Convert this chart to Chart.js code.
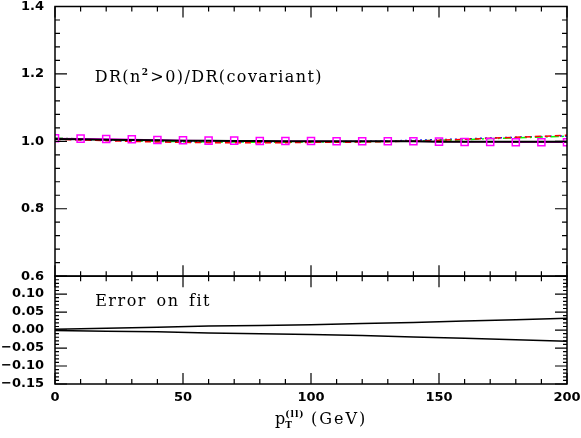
<!DOCTYPE html>
<html>
<head>
<meta charset="utf-8">
<script src="https://cdn.jsdelivr.net/npm/chart.js@4.4.1/dist/chart.umd.min.js"></script>
<style>
    html, body { margin: 0; padding: 0; background: #fff; }
    #wrap { width: 581px; height: 438px; }
</style>
</head>
<body>
<div id="wrap"><canvas id="chart" width="581" height="438"></canvas></div>
<script>
// pT values (GeV) of the ratio curves
const ptValues = [0, 10, 20, 30, 40, 50, 60, 70, 80, 90, 100, 110, 120, 130, 140, 150, 160, 170, 180, 190, 200];

// Ratio DR(n^2>0)/DR(covariant)
const ratioBlack   = [1.007, 1.006, 1.005, 1.004, 1.003, 1.002, 1.002, 1.001, 1.001, 1.000, 1.000, 1.000, 1.000, 1.000, 1.000, 0.999, 0.999, 0.999, 0.999, 0.999, 0.999];
const ratioRed     = [1.006, 1.004, 1.002, 1.000, 0.998, 0.997, 0.996, 0.996, 0.996, 0.996, 0.997, 0.997, 0.998, 0.999, 1.001, 1.003, 1.006, 1.009, 1.012, 1.015, 1.018];
const ratioGreen   = [1.010, 1.007, 1.004, 1.002, 1.000, 0.999, 0.998, 0.998, 0.997, 0.997, 0.998, 0.998, 0.999, 1.000, 1.001, 1.003, 1.005, 1.008, 1.010, 1.013, 1.015];
const ratioBlue    = [1.007, 1.005, 1.003, 1.001, 1.000, 0.999, 0.998, 0.998, 0.998, 0.998, 0.999, 0.999, 1.000, 1.001, 1.003, 1.005, 1.007, 1.010, 1.012, 1.014, 1.016];
const ratioMagenta = [1.009, 1.008, 1.007, 1.006, 1.004, 1.003, 1.002, 1.002, 1.001, 1.001, 1.001, 1.000, 1.000, 1.000, 1.000, 0.999, 0.998, 0.998, 0.997, 0.997, 0.997];

// Error on fit band (lower panel)
const errPt    = [0, 20, 40, 60, 80, 100, 120, 140, 160, 180, 200];
const errUpper = [0.002, 0.005, 0.008, 0.011, 0.013, 0.015, 0.018, 0.021, 0.025, 0.029, 0.033];
const errLower = [-0.001, -0.003, -0.005, -0.008, -0.010, -0.012, -0.015, -0.019, -0.023, -0.027, -0.031];

// Tick labels
const xTicks = [0, 50, 100, 150, 200];
const yTopTicks = [0.6, 0.8, 1.0, 1.2, 1.4];
const yBotTicks = [-0.15, -0.10, -0.05, 0.00, 0.05, 0.10];

// Texts
const topLabel = "DR(n";
const topLabelSup = "2";
const topLabelRest = ">0)/DR(covariant)";
const botLabel = "Error on fit";

const tickFont = { family: "DejaVu Sans", weight: "bold", size: 13, lineHeight: 1 };
const serif = "DejaVu Serif";

function pts(xs, ys) {
    return xs.map((x, i) => ({ x: x, y: ys[i] }));
}

function minus(s) {
    return s.replace("-", "\u2212");
}

// Fixed axis sizes, no extra room for the end labels
function fixY(s) {
    s.width = 55;
    s.paddingTop = 0;
    s.paddingBottom = 0;
}

function fixX(s) {
    s.height = 54;
    s.paddingLeft = 0;
    s.paddingRight = 0;
}

/**
 * Draws the frames, inward ticks and the texts
 */
const framePlugin = {
    id: "frame",
    afterDraw(chart) {
        const ctx = chart.ctx;
        const xs = chart.scales.x;
        const yt = chart.scales.y;
        const yb = chart.scales.y2;
        ctx.save();
        ctx.strokeStyle = "#000";
        ctx.lineWidth = 1.5;

        // Frames
        [yt, yb].forEach(ys => {
            ctx.strokeRect(xs.left, ys.top, xs.right - xs.left, ys.bottom - ys.top);
        });

        ctx.lineWidth = 1.2;
        ctx.beginPath();
        // x ticks on top and bottom of both panels
        for (let v = 0; v <= 200; v += 10) {
            const px = xs.getPixelForValue(v);
            const len = v % 50 === 0 ? 11 : 5;
            [yt, yb].forEach(ys => {
                ctx.moveTo(px, ys.top);
                ctx.lineTo(px, ys.top + len);
                ctx.moveTo(px, ys.bottom);
                ctx.lineTo(px, ys.bottom - len);
            });
        }
        // y ticks, top panel
        for (let i = 0; i <= 20; i++) {
            const v = 0.6 + i * 0.04;
            const py = yt.getPixelForValue(v);
            const len = i % 5 === 0 ? 12 : 5;
            ctx.moveTo(xs.left, py);
            ctx.lineTo(xs.left + len, py);
            ctx.moveTo(xs.right, py);
            ctx.lineTo(xs.right - len, py);
        }
        // y ticks, bottom panel
        for (let i = 0; i <= 30; i++) {
            const v = -0.15 + i * 0.01;
            const py = yb.getPixelForValue(v);
            const len = i % 5 === 0 ? 12 : 4;
            ctx.moveTo(xs.left, py);
            ctx.lineTo(xs.left + len, py);
            ctx.moveTo(xs.right, py);
            ctx.lineTo(xs.right - len, py);
        }
        ctx.stroke();

        // Labels inside the panels
        ctx.fillStyle = "#000";
        ctx.textBaseline = "alphabetic";
        ctx.textAlign = "left";
        ctx.letterSpacing = "1.4px";
        let tx = xs.getPixelForValue(15.5);
        let ty = yt.getPixelForValue(1.176);
        ctx.font = "16px " + serif;
        ctx.fillText(topLabel, tx, ty);
        tx += ctx.measureText(topLabel).width;
        ctx.font = "bold 9px " + serif;
        ctx.fillText(topLabelSup, tx, ty - 7);
        tx += ctx.measureText(topLabelSup).width + 1;
        ctx.font = "16px " + serif;
        ctx.fillText(topLabelRest, tx, ty);

        ctx.letterSpacing = "1.5px";
        ctx.wordSpacing = "3px";
        ctx.fillText(botLabel, xs.getPixelForValue(15.7), yb.getPixelForValue(0.0665));
        ctx.wordSpacing = "0px";

        // x axis title: p_T^(ll) (GeV)
        let ax = 275;
        const ay = 424;
        ctx.letterSpacing = "0px";
        ctx.font = "16px " + serif;
        ctx.fillText("p", ax, ay);
        ax += ctx.measureText("p").width;
        ctx.font = "bold 9px " + serif;
        ctx.fillText("T", ax, ay + 4);
        ctx.letterSpacing = "1px";
        ctx.fillText("(ll)", ax, ay - 7);
        ax = 311;
        ctx.letterSpacing = "2px";
        ctx.font = "16px " + serif;
        ctx.fillText("(GeV)", ax, ay);

        ctx.restore();
    },
};

const ctx = document.getElementById("chart");

new Chart(ctx, {
    type: "line",
    data: {
        datasets: [
            {
                label: "magenta points",
                data: pts(ptValues, ratioMagenta),
                yAxisID: "y",
                showLine: false,
                pointStyle: "rect",
                pointRadius: 5,
                pointBorderWidth: 1.5,
                pointBorderColor: "#ff00ff",
                pointBackgroundColor: "rgba(0,0,0,0)",
                order: 0,
            },
            {
                label: "black",
                data: pts(ptValues, ratioBlack),
                yAxisID: "y",
                borderColor: "#000",
                borderWidth: 2,
                pointRadius: 0,
                order: 1,
            },
            {
                label: "magenta",
                data: pts(ptValues, ratioMagenta),
                yAxisID: "y",
                borderColor: "#ff00ff",
                borderWidth: 1.2,
                pointRadius: 0,
                order: 2,
            },
            {
                label: "red",
                data: pts(ptValues, ratioRed),
                yAxisID: "y",
                borderColor: "#ff0000",
                borderWidth: 1.5,
                borderDash: [6, 4],
                pointRadius: 0,
                order: 3,
            },
            {
                label: "green",
                data: pts(ptValues, ratioGreen),
                yAxisID: "y",
                borderColor: "#00ff00",
                borderWidth: 1.5,
                borderDash: [8, 3, 2, 3],
                pointRadius: 0,
                order: 4,
            },
            {
                label: "blue",
                data: pts(ptValues, ratioBlue),
                yAxisID: "y",
                borderColor: "#0000ff",
                borderWidth: 1.5,
                borderDash: [2, 3],
                pointRadius: 0,
                order: 5,
            },
            {
                label: "err up",
                data: pts(errPt, errUpper),
                yAxisID: "y2",
                borderColor: "#000",
                borderWidth: 1.5,
                pointRadius: 0,
            },
            {
                label: "err down",
                data: pts(errPt, errLower),
                yAxisID: "y2",
                borderColor: "#000",
                borderWidth: 1.5,
                pointRadius: 0,
            },
        ],
    },
    options: {
        responsive: false,
        animation: false,
        layout: { padding: { top: 6, right: 14, left: 0, bottom: 0 } },
        plugins: {
            legend: { display: false },
            tooltip: { enabled: false },
        },
        elements: { line: { tension: 0 } },
        scales: {
            x: {
                type: "linear",
                min: 0,
                max: 200,
                grid: { display: false, drawTicks: false },
                border: { display: false },
                afterBuildTicks: s => {
                    s.ticks = xTicks.map(v => ({ value: v }));
                },
                afterFit: fixX,
                ticks: {
                    color: "#000",
                    font: tickFont,
                    padding: 7,
                    maxRotation: 0,
                    autoSkip: false,
                    callback: v => String(v),
                },
            },
            y: {
                type: "linear",
                position: "left",
                stack: "panels",
                stackWeight: 270,
                weight: 2,
                min: 0.6,
                max: 1.4,
                grid: { display: false, drawTicks: false },
                border: { display: false },
                afterBuildTicks: s => {
                    s.ticks = yTopTicks.map(v => ({ value: v }));
                },
                afterFit: fixY,
                ticks: {
                    color: "#000",
                    font: tickFont,
                    padding: 11,
                    autoSkip: false,
                    callback: v => v.toFixed(1),
                },
            },
            y2: {
                type: "linear",
                position: "left",
                stack: "panels",
                stackWeight: 108,
                weight: 1,
                min: -0.15,
                max: 0.15,
                grid: { display: false, drawTicks: false },
                border: { display: false },
                afterBuildTicks: s => {
                    s.ticks = yBotTicks.map(v => ({ value: v }));
                },
                afterFit: fixY,
                ticks: {
                    color: "#000",
                    font: tickFont,
                    padding: 11,
                    autoSkip: false,
                    callback: v => minus(v.toFixed(2)),
                },
            },
        },
    },
    plugins: [framePlugin],
});
</script>
</body>
</html>
